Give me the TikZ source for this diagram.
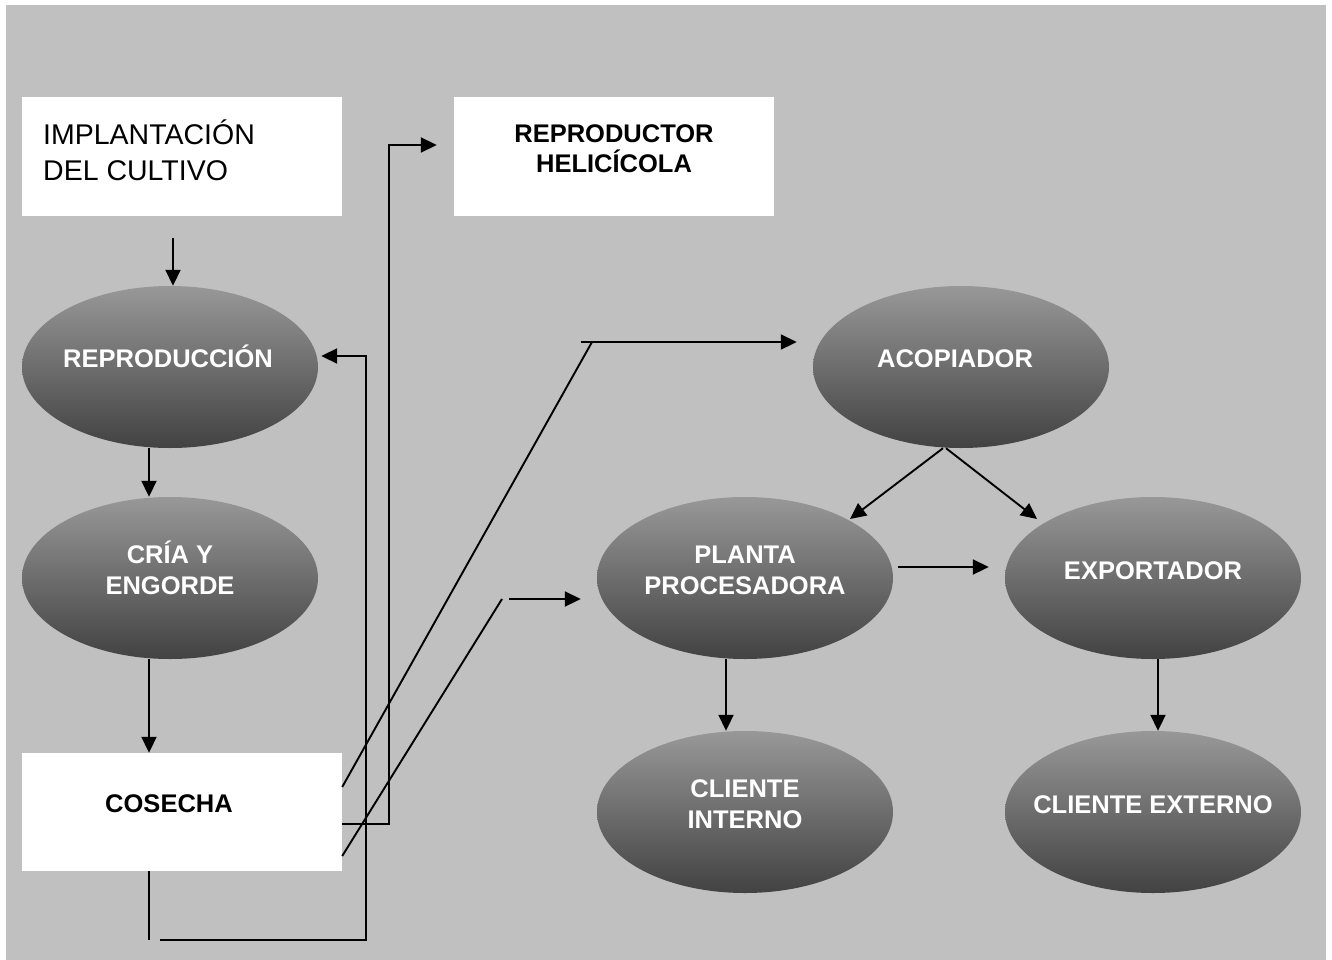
\documentclass[tikz,border=0pt]{standalone}
\usepackage{fontspec}
\setmainfont{Liberation Sans}
\usetikzlibrary{arrows.meta,shapes.geometric}
\definecolor{panel}{HTML}{C0C0C0}
\definecolor{shTop}{HTML}{989898}
\definecolor{shBot}{HTML}{424242}
\begin{document}
\begin{tikzpicture}[x=1pt,y=-1pt,
  stage/.style={ellipse, minimum width=296pt, minimum height=162pt, inner sep=0pt,
                top color=shTop, bottom color=shBot, draw=none},
  card/.style={rectangle, fill=white, minimum width=320pt, minimum height=118pt, inner sep=0pt},
  etext/.style={anchor=base, font=\bfseries\fontsize{25.5}{30}\selectfont, text=white, inner sep=0pt},
  ctext/.style={anchor=base, font=\bfseries\fontsize{25.5}{30}\selectfont, text=black, inner sep=0pt},
  ptext/.style={anchor=base west, font=\fontsize{28.5}{36}\selectfont, text=black, inner sep=0pt},
  link/.style={line width=1.9pt},
  flow/.style={line width=1.9pt, -{Triangle[length=16pt,width=15pt]}},
]
% page and panel
\useasboundingbox (0,0) rectangle (1332,960);
\fill[white] (0,0) rectangle (1332,960);
\fill[panel] (6,5) rectangle (1326,960);

% white boxes
\node[card] (impl) at (182,156.5) {};
\node[card] (rhel) at (614,156.5) {};
\node[card] (cos)  at (182,812) {};

% stages
\node[stage] (repro)  at (170,367) {};
\node[stage] (cria)   at (170,578) {};
\node[stage] (acop)   at (961,367) {};
\node[stage] (planta) at (745,578) {};
\node[stage] (expo)   at (1153,578) {};
\node[stage] (cint)   at (745,812) {};
\node[stage] (cext)   at (1153,812) {};

% labels
\node[ptext] (implA) at (43,145) {IMPLANTACIÓN};
\node[ptext] (implB) at (43,181) {DEL CULTIVO};
\node[ctext] (rhelA) at (614,143) {REPRODUCTOR};
\node[ctext] (rhelB) at (614,173) {HELICÍCOLA};
\node[ctext] (cosT)  at (169,812) {COSECHA};
\node[etext] (reproT)  at (168,367) {REPRODUCCIÓN};
\node[etext] (criaA)   at (170,563) {CRÍA Y};
\node[etext] (criaB)   at (170,594) {ENGORDE};
\node[etext] (acopT)   at (955,367) {ACOPIADOR};
\node[etext] (plantaA) at (745,563) {PLANTA};
\node[etext] (plantaB) at (745,594) {PROCESADORA};
\node[etext] (expoT)   at (1153,579) {EXPORTADOR};
\node[etext] (cintA)   at (745,797) {CLIENTE};
\node[etext] (cintB)   at (745,828) {INTERNO};
\node[etext] (cextT)   at (1153,813) {CLIENTE EXTERNO};

% left column
\coordinate (a0) at (173,238);
\draw[flow] (a0) -- (a0 |- repro.north);
\coordinate (xl) at (149,0);
\draw[flow] (repro.south -| xl) -- (cria.north -| xl);
\draw[flow] (cria.south -| xl) -- (cos.north -| xl);
\coordinate (bl) at (149,940);
\draw[link] (cos.south -| bl) -- (bl);

% return loop to reproduction
\coordinate (fb0) at (160,940);
\coordinate (fb1) at (366,356);
\draw[flow] (fb0) -| (fb1) -- ([xshift=3pt]repro.east |- fb1);

% harvest to breeder
\coordinate (rt) at (389,145);
\draw[flow] ([yshift=-12pt]cos.east) -| (rt) -- ([xshift=-17pt]rhel.west |- rt);

% harvest to collector
\coordinate (d1) at (592,342);
\coordinate (h1) at (581,342);
\draw[link] ([yshift=25pt]cos.east) -- (d1);
\draw[flow] (h1) -- ([xshift=-16pt]acop.west |- h1);

% harvest to processing plant
\coordinate (d2) at (502,599);
\coordinate (h2) at (509,599);
\draw[link] ([yshift=-44pt]cos.east) -- (d2);
\draw[flow] (h2) -- ([xshift=-16pt]planta.west |- h2);

% collector branches
\coordinate (tl) at (850,519);
\coordinate (tr) at (1037,519);
\draw[flow] ([xshift=-18pt]acop.south) -- (tl);
\draw[flow] ([xshift=-15pt]acop.south) -- (tr);

% plant to exporter
\coordinate (pe) at (898,567);
\draw[flow] (pe) -- ([xshift=-16pt]expo.west |- pe);

% to clients
\coordinate (xi) at (726,0);
\draw[flow] (planta.south -| xi) -- (cint.north -| xi);
\coordinate (xe) at (1158,0);
\draw[flow] (expo.south -| xe) -- (cext.north -| xe);
\end{tikzpicture}
\end{document}
